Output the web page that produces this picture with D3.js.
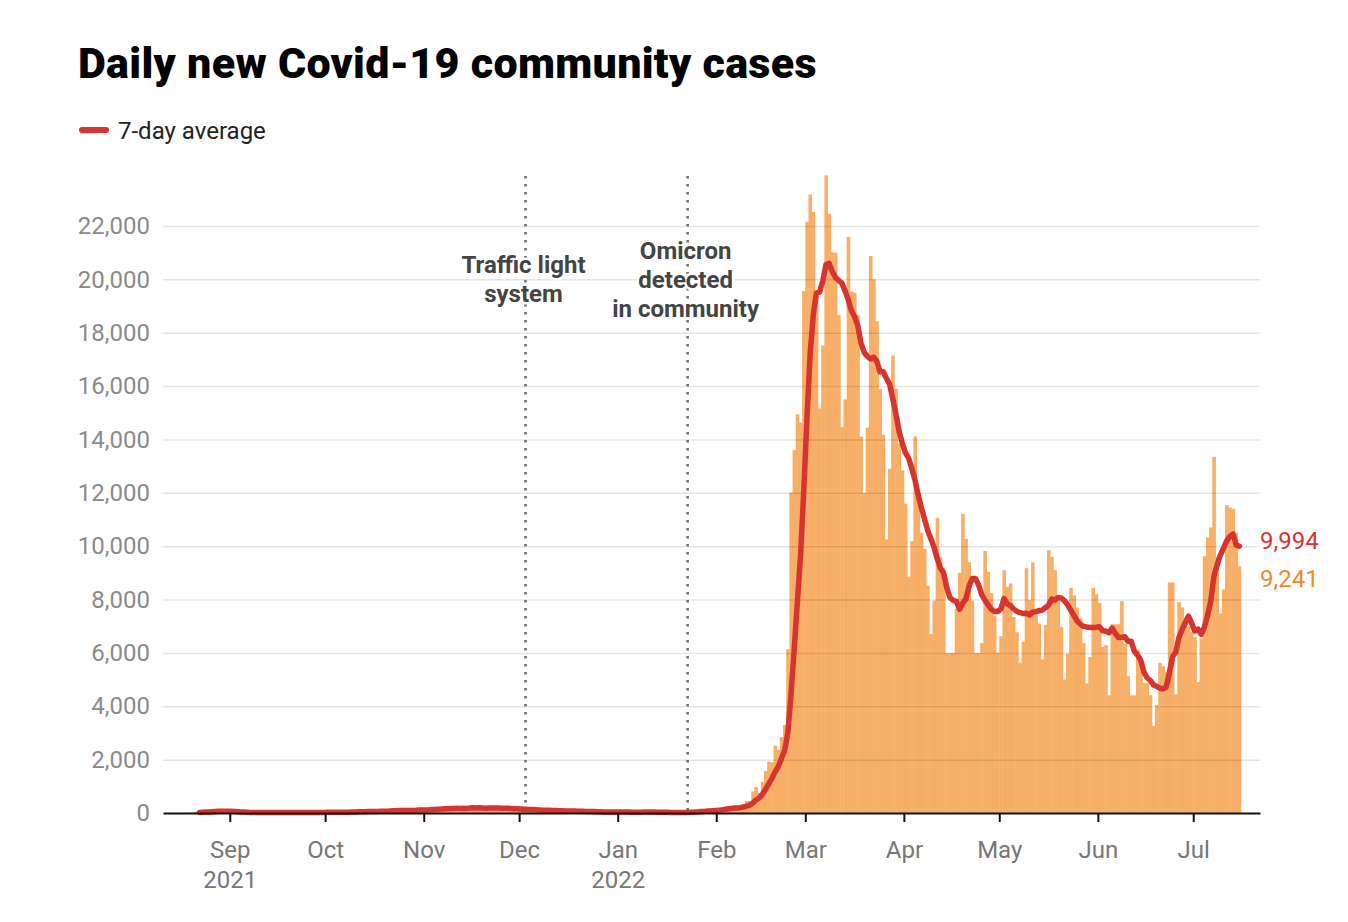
<!DOCTYPE html>
<html><head><meta charset="utf-8">
<script src="https://cdn.jsdelivr.net/npm/d3@7"></script>
<style>
body{margin:0;background:#fff;}
svg{display:block;font-family:Roboto,"Noto Sans","DejaVu Sans",sans-serif;}
</style></head><body>
<svg id="chart" width="1348" height="922"></svg>
<script>
// ---------------- data ----------------
const firstDay = "2021-08-17";
const casesAug2021 = [1,7,11,11,21,51,35,41,62,68,70,82,83,53,49];
const casesSep2021 = [75,28,20,21,20,20,21,15,13,11,20,33,15,14,15,11,13,24,22,14,14,17,15,9,16,18,12,45,19,19];
const casesOct2021 = [19,33,22,29,27,39,29,44,34,60,35,55,71,55,65,43,51,60,94,60,102,129,104,80,109,79,74,89,125,143,162];
const casesNov2021 = [126,100,92,147,163,206,190,190,125,147,185,175,201,207,173,194,222,167,200,172,143,205,215,178,178,172,145,148,134,182];
const casesDec2021 = [147,144,92,105,135,98,134,101,87,89,86,70,76,74,91,60,72,58,73,47,64,54,49,38,42,30,26,21,42,56,48];
const casesJan2022 = [32,19,14,29,41,25,41,49,24,26,25,45,21,22,19,17,16,23,28,17,17,34,24,25,46,105,62,83,93,104,66];
const casesFeb2022 = [146,141,147,209,243,208,188,202,204,306,446,454,810,981,744,1160,1573,1929,1901,2522,2365,2846,3297,6137,12011,13606,14941,14633];
const casesMar2022 = [19566,22152,23183,22527,19453,15161,17522,23894,22454,21015,21000,18660,14460,15500,21590,19540,19500,18660,14100,12000,14440,20875,20000,18430,15890,14175,10250,12900,17150,15900,13840];
const casesApr2022 = [12840,11590,8860,10190,14110,12000,10500,9900,8525,6710,7960,11060,9590,9200,6000,6000,6000,7650,9000,11210,10275,9400,7960,6000,6000,6375,9825,9040,8240,7390];
const casesMay2022 = [6010,6625,9100,8475,8600,7350,6775,5640,6410,9175,7975,9390,7410,7100,5750,7050,9850,9600,9100,8100,6975,5000,5975,8440,8160,7700,7300,6375,4850,5850,8440];
const casesJun2022 = [8200,7875,6225,6290,4410,7075,7075,7075,7940,6350,5125,4410,4410,6125,5660,4875,4875,4410,3260,4040,5625,5500,5290,8640,8640,4440,7900,7700,7300,7000];
const casesJul2022 = [6800,6600,4910,6540,9625,10325,10700,13350,9600,7475,8375,11540,11450,11400,10500,9241];

const endLabelValues = [9994, 9241];          // 7-day average, daily cases on the last day
const yTicks = [0,2000,4000,6000,8000,10000,12000,14000,16000,18000,20000,22000];
const monthTicks = ["2021-09-01","2021-10-01","2021-11-01","2021-12-01","2022-01-01","2022-02-01","2022-03-01","2022-04-01","2022-05-01","2022-06-01","2022-07-01"];
const monthLabels = ["Sep","Oct","Nov","Dec","Jan","Feb","Mar","Apr","May","Jun","Jul"];
const yearLabels = ["2021","","","","2022","","","","","",""];
const xDomain = ["2021-08-11","2022-07-22"];
const annotationDates = ["2021-12-03","2022-01-23"];
const annotationTexts = [["Traffic light","system"],["Omicron","detected","in community"]];
const titleText = "Daily new Covid-19 community cases";
const legendText = "7-day average";

// ---------------- build ----------------
const parse = d3.utcParse("%Y-%m-%d");
const cases = [].concat(casesAug2021,casesSep2021,casesOct2021,casesNov2021,casesDec2021,casesJan2022,
  casesFeb2022,casesMar2022,casesApr2022,casesMay2022,casesJun2022,casesJul2022);
const start = parse(firstDay);
const data = cases.map((v,i)=>({date:d3.utcDay.offset(start,i), value:v}));
const avg = data.map((d,i)=> i<6 ? null : {date:d.date, value:d3.mean(data.slice(i-6,i+1),e=>e.value)}).filter(d=>d);

const svg = d3.select("#chart");
const x = d3.scaleUtc().domain(xDomain.map(parse)).range([163,1260]);
const y = d3.scaleLinear().domain([0,22000]).range([813,226]);
const dayW = x(d3.utcDay.offset(start,1)) - x(start);

const orange = "#f7ae66", red = "#d7332f", orangeText = "#ec8a2c";

// title
svg.append("text").attr("x",78).attr("y",78).attr("font-size",43).attr("font-weight",900)
  .attr("letter-spacing",0.3).attr("fill","#000").text(titleText);
// legend
svg.append("line").attr("x1",82).attr("x2",106).attr("y1",130).attr("y2",130)
  .attr("stroke",red).attr("stroke-width",6).attr("stroke-linecap","round");
svg.append("text").attr("x",118).attr("y",139).attr("font-size",24).attr("fill","#222").text(legendText);

// bars
svg.append("g").selectAll("rect").data(data).join("rect")
  .attr("x",d=>x(d3.utcDay.offset(d.date,-1)))
  .attr("width",dayW+0.4)
  .attr("y",d=>y(d.value))
  .attr("height",d=>y(0)-y(d.value))
  .attr("fill",orange);

// gridlines (drawn over bars, translucent)
svg.append("g").selectAll("line").data(yTicks.filter(t=>t>0)).join("line")
  .attr("x1",163).attr("x2",1260).attr("y1",d=>y(d)+0.5).attr("y2",d=>y(d)+0.5)
  .attr("stroke","rgba(0,0,0,0.1)").attr("stroke-width",1.5);

// y axis labels
const yAxis = svg.append("g").attr("transform","translate(150,0)")
  .call(d3.axisLeft(y).tickValues(yTicks).tickSize(0).tickPadding(0).tickFormat(d3.format(",")));
yAxis.select(".domain").remove();
yAxis.selectAll("text").attr("font-size",24).attr("fill","#8a8a8a").attr("font-family","Roboto");

// annotation lines
annotationDates.forEach((ds,i)=>{
  const ax = x(parse(ds));
  svg.append("line").attr("x1",ax).attr("x2",ax).attr("y1",176).attr("y2",813)
    .attr("stroke","#6f6f6f").attr("stroke-width",2.6).attr("stroke-dasharray","2.6 5.4");
});

// 7-day average line
svg.append("path").datum(avg)
  .attr("d",d3.line().x(d=>x(d.date)-dayW/2).y(d=>y(d.value)))
  .attr("fill","none").attr("stroke",red).attr("stroke-width",5.5)
  .attr("stroke-linejoin","round").attr("stroke-linecap","round");

// annotation texts
annotationDates.forEach((ds,i)=>{
  const ax = x(parse(ds)) - 2;
  const lines = annotationTexts[i];
  const top = i===0 ? 273 : 259;
  lines.forEach((t,j)=>{
    svg.append("text").attr("x",ax).attr("y",top+j*29).attr("text-anchor","middle")
      .attr("font-size",24).attr("font-weight",700).attr("fill","#444")
      .attr("stroke","#fff").attr("stroke-width",5).attr("paint-order","stroke").text(t);
  });
});

// x axis
const monthDates = monthTicks.map(parse);
const xAxis = svg.append("g").attr("transform",`translate(0,${y(0)})`)
  .call(d3.axisBottom(x).tickValues(monthDates).tickSize(9).tickSizeOuter(0).tickPadding(19)
    .tickFormat((d,i)=>monthLabels[i]));
xAxis.select(".domain").attr("stroke","#111").attr("stroke-width",2);
xAxis.selectAll(".tick line").attr("stroke","#111").attr("stroke-width",2);
xAxis.selectAll(".tick text").attr("font-size",24).attr("fill","#777").attr("font-family","Roboto")
  .each(function(d,i){
    if(yearLabels[i]){
      d3.select(this).append("tspan").attr("x",0).attr("dy","1.25em").text(yearLabels[i]);
    }
  });

// end labels
const lastAvgY = y(endLabelValues[0]);
svg.append("text").attr("x",1260).attr("y",lastAvgY+3).attr("font-size",24).attr("fill",red)
  .text(d3.format(",")(endLabelValues[0]));
svg.append("text").attr("x",1260).attr("y",lastAvgY+41).attr("font-size",24).attr("fill",orangeText)
  .text(d3.format(",")(endLabelValues[1]));
</script>
</body></html>
